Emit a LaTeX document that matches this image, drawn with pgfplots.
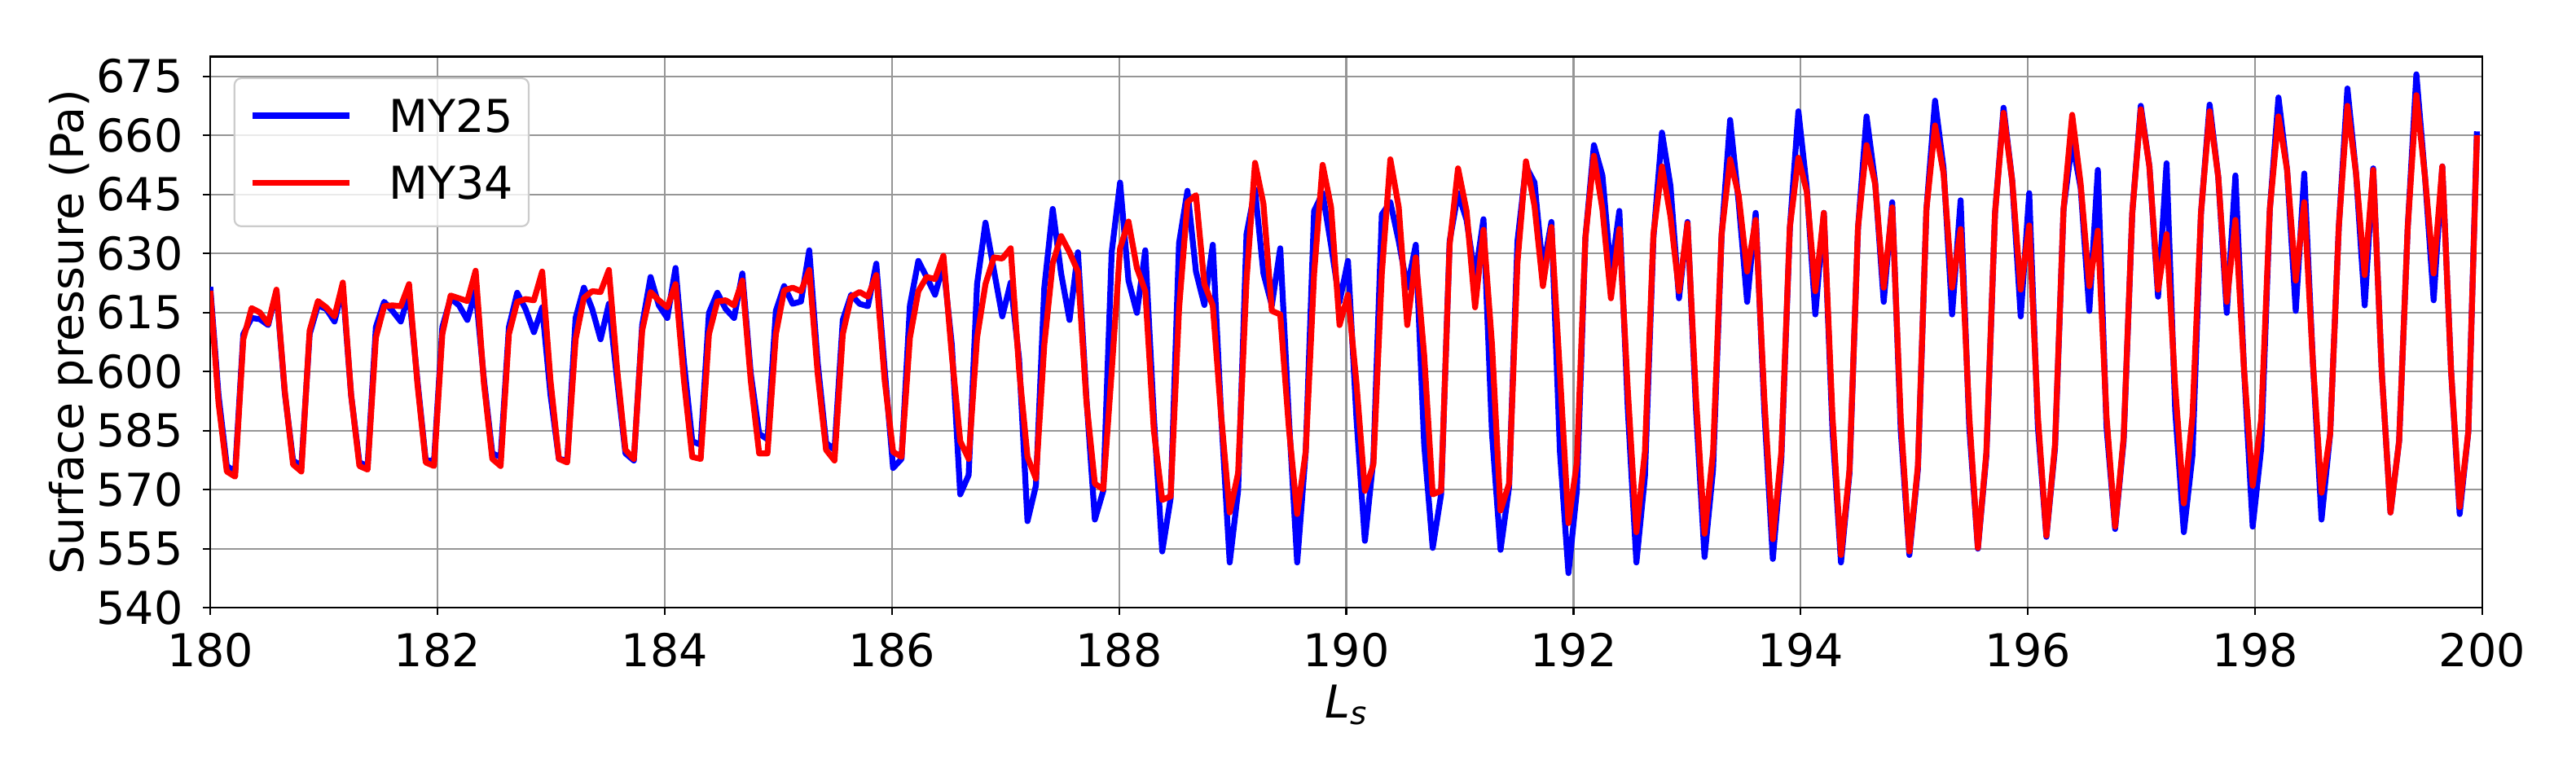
\documentclass[border=0pt]{standalone}
\usepackage{fontspec}
\setmainfont{DejaVu Sans}
\usepackage{pgfplots}
\pgfplotsset{compat=1.18}
\usepackage{pgfplotstable}
\definecolor{gridgray}{RGB}{150,150,150}
\definecolor{legedge}{RGB}{204,204,204}

\pgfplotstableread{
x b r
180.000 621.5 620.5
180.073 594 592
180.146 576.0 574.6
180.219 574.6 573.3
180.291 609.5 608.2
180.364 613.6 616.1
180.437 613.3 615.0
180.510 611.8 612.2
180.583 620.4 620.8
180.656 594.6 595.0
180.729 577.4 576.4
180.802 576.0 574.6
180.875 609.5 610.4
180.948 616.8 617.9
181.021 615.9 616.3
181.094 612.7 614.0
181.167 621.3 622.6
181.240 594.0 594.1
181.313 576.9 576.0
181.385 576.0 575.1
181.458 611.3 608.6
181.531 617.7 616.6
181.604 615.4 616.8
181.677 612.7 616.6
181.750 619.9 622.2
181.824 597.7 596.8
181.897 577.4 576.9
181.970 577.4 576.0
182.043 611.3 609.5
182.116 618.6 619.3
182.190 616.8 618.6
182.263 613.1 617.9
182.336 620.4 625.6
182.409 598 597
182.483 579.2 577.8
182.556 578.3 576.0
182.629 611.3 609.5
182.702 620.0 617.7
182.775 615.9 618.4
182.849 610.0 618.1
182.922 616.3 625.4
182.995 594.1 597.7
183.069 577.8 577.8
183.142 577.4 576.9
183.216 613.6 608.2
183.289 621.3 618.7
183.362 615.9 620.4
183.436 608.2 620.2
183.509 617.2 625.8
183.582 597.7 600.5
183.655 579.2 580.1
183.729 577.4 577.8
183.802 611.8 610.4
183.876 624.0 620.2
183.949 616.8 618.1
184.023 613.6 616.3
184.096 626.3 622.2
184.170 602.3 597.7
184.243 582.3 578.3
184.317 581.4 577.8
184.390 614.9 609.5
184.464 620.0 617.8
184.537 615.9 618.1
184.611 613.6 616.8
184.684 624.9 623.1
184.758 599.5 597.7
184.832 584.2 579.2
184.905 582.8 579.2
184.979 615.4 609.5
185.052 621.7 620.6
185.126 617.2 621.3
185.200 617.8 620.4
185.273 630.8 625.8
185.347 602.3 599.5
185.421 581.9 580.1
185.495 580.1 577.4
185.568 613.1 609.5
185.642 619.5 619.0
185.716 617.2 620.2
185.789 616.6 619.0
185.863 627.4 624.5
185.937 600.5 597.7
186.011 575.5 579.6
186.085 577.8 578.3
186.159 616.8 608.6
186.233 628.1 620.4
186.306 624.0 624.0
186.380 619.5 623.5
186.454 627.2 629.4
186.528 606.8 604.1
186.602 568.8 582.3
186.676 573.7 577.8
186.750 622.2 608.6
186.824 637.8 622.2
186.898 625.8 629.0
186.972 614.0 628.7
187.046 622.6 631.3
187.120 603.2 600.5
187.194 562.0 578.3
187.268 571.0 572.8
187.342 621.3 606.8
187.416 641.3 627.5
187.490 624.9 634.4
187.564 613.1 630.3
187.638 630.3 625.4
187.713 593.2 592.3
187.787 562.4 571.5
187.861 569.7 570.1
187.935 630.3 600.0
188.009 648.0 631.3
188.083 623.1 638.1
188.157 614.9 626.3
188.231 630.8 620.4
188.306 588.7 585.1
188.380 554.3 567.4
188.454 567.8 568.3
188.528 632.6 615.9
188.602 645.9 643.0
188.677 625.4 644.8
188.751 616.9 622.2
188.825 632.2 616.8
188.899 588.7 588.7
188.974 551.5 564.2
189.048 569.7 574.2
189.122 634.9 623.1
189.197 646.2 653.0
189.271 624.9 642.6
189.345 616.8 615.4
189.419 631.3 614.5
189.494 588.7 586.0
189.568 551.5 563.8
189.643 579.6 579.6
189.717 640.8 624.9
189.792 645.3 652.5
189.866 632.1 641.8
189.941 617.7 611.8
190.015 628.1 619.5
190.090 588 597
190.164 557.0 569.7
190.239 577.8 576.4
190.313 639.9 624.9
190.388 643.0 653.9
190.462 633.1 641.7
190.537 621.3 611.8
190.612 632.2 629.0
190.686 581.4 604.1
190.761 555.2 568.8
190.835 568.8 569.7
190.910 633.1 632.2
190.984 645.3 651.6
191.059 638.5 640.8
191.134 624.0 616.3
191.208 638.7 636.0
191.283 584.2 606.8
191.358 554.7 564.7
191.433 570.6 571.5
191.507 633.1 627.6
191.582 652.1 653.4
191.657 648.0 642.1
191.731 625.8 621.7
191.806 638.0 636.7
191.881 579.6 599.5
191.956 548.8 561.5
192.030 569.7 576.9
192.105 634.0 634.0
192.180 657.5 654.8
192.255 649.8 641.2
192.330 624.9 618.6
192.404 640.8 636.2
192.479 590 595
192.554 551.5 559.2
192.629 573.3 579.6
192.704 634.0 634.9
192.779 660.7 652.1
192.854 647.1 639.4
192.929 618.6 620.4
193.004 638.0 637.6
193.079 590 593.2
193.154 552.9 558.8
193.229 575.1 579.6
193.304 634.5 634.9
193.379 663.9 653.9
193.454 643.0 644.8
193.529 617.7 625.4
193.604 640.3 638.5
193.680 590 593.2
193.755 552.4 557.4
193.830 577.8 579.6
193.905 636.5 636.7
193.980 666.1 654.3
194.054 646.6 645.7
194.129 614.5 620.4
194.204 640.3 640.3
194.280 585 588.7
194.355 551.5 553.4
194.430 574.2 575.1
194.505 636.5 636.7
194.580 664.8 657.5
194.656 648 647.6
194.731 617.7 621.3
194.806 643.0 641.7
194.881 585 588
194.957 553.4 554.3
195.032 575.1 576.0
195.107 641.2 641.2
195.183 668.8 662.5
195.258 651.6 650.3
195.333 614.5 621.3
195.408 643.5 636.2
195.484 586 588.7
195.560 555.0 555.2
195.635 578.7 579.6
195.711 640.3 640.3
195.786 667.0 665.7
195.862 648.5 648.5
195.937 614.0 620.8
196.012 645.3 637.1
196.088 586 588.7
196.163 558.0 558.3
196.239 580.5 581.4
196.314 641.2 641.2
196.390 658.4 665.2
196.465 646.6 647.6
196.541 615.4 621.7
196.616 651.2 635.8
196.692 586 588.7
196.768 560.0 560.6
196.843 582.3 583.2
196.919 640.3 640.3
196.994 667.5 666.6
197.070 652.1 652.1
197.146 619.0 620.8
197.221 652.9 634.9
197.297 590 596
197.373 559.2 566.5
197.449 578.7 588.7
197.524 640.3 640.3
197.600 667.8 666.1
197.676 649.4 649.4
197.751 614.9 617.7
197.827 649.8 638.5
197.903 600.5 600.5
197.979 560.6 571.0
198.054 580.5 587.8
198.130 641.2 641.2
198.206 669.6 664.8
198.282 651.2 651.2
198.358 615.4 623.1
198.433 650.3 643.0
198.509 602.3 602.3
198.585 562.4 569.2
198.661 584.2 584.2
198.737 636.7 636.7
198.813 671.9 667.5
198.889 650.3 650.3
198.965 616.8 624.5
199.040 651.6 651.2
199.116 599.5 599.5
199.192 564.2 564.2
199.268 582.3 582.3
199.344 636.7 636.7
199.420 675.5 670.2
199.496 649.4 649.4
199.572 618.1 624.9
199.648 652.1 652.1
199.725 600.5 600.5
199.801 563.8 565.6
199.877 584.6 584.6
199.953 661 660
}\data

\begin{document}
\begin{tikzpicture}
\useasboundingbox (-92.9pt,-74.5pt) rectangle (1045.3pt,268.6pt);
\begin{axis}[
  at={(0,0)}, anchor=south west,
  scale only axis, width=1003.9pt, height=243.6pt,
  xmin=180, xmax=200, ymin=540, ymax=680,
  xtick={180,182,...,200}, ytick={540,555,...,675},
  grid=major, grid style={line width=0.8pt, gridgray},
  axis line style={line width=0.8pt, black},
  tick align=outside, tick pos=left,
  major tick length=3.1pt,
  every tick/.style={black, line width=0.8pt},
  tick label style={font=\fontsize{20}{24}\selectfont, inner sep=0pt},
  /pgf/number format/assume math mode=true,
  xticklabel style={anchor=north},
  yticklabel style={anchor=east},
  xticklabel shift=7.9pt,
  yticklabel shift=8.8pt,
  xlabel={\textit{L}\raisebox{-3pt}{\fontsize{14}{14}\selectfont\textit{s}}},
  ylabel={Surface pressure (Pa)},
  every axis x label/.style={at={(axis description cs:0.5,-0.1388)}, anchor=north, inner sep=0pt, font=\fontsize{20}{24}\selectfont},
  every axis y label/.style={at={(axis description cs:-0.06136,0.5)}, rotate=90, anchor=center, inner sep=0pt, font=\fontsize{20}{24}\selectfont},
  legend cell align=left,
  legend style={at={(axis description cs:0.01026,0.96223)}, anchor=north west,
    draw=legedge, line width=0.8pt, rounded corners=3pt, fill=white, fill opacity=0.8, draw opacity=1, text opacity=1,
    inner xsep=6.8pt, inner ysep=9.2pt, row sep=12.4pt, column sep=16.2pt,
    font=\fontsize{20}{24}\selectfont,
    nodes={inner sep=0pt, text height=14.6pt, text depth=2.7pt, anchor=base west}},
  legend image code/.code={\draw[#1, sharp corners] (0pt,7.3pt) -- (42.7pt,7.3pt);},
]
\addplot[blue, line width=2.6pt, line join=round, mark=none] table[x=x, y=b]{\data};
\addlegendentry{MY25}
\addplot[red, line width=2.6pt, line join=round, mark=none] table[x=x, y=r]{\data};
\addlegendentry{MY34}
\end{axis}
\end{tikzpicture}
\end{document}
